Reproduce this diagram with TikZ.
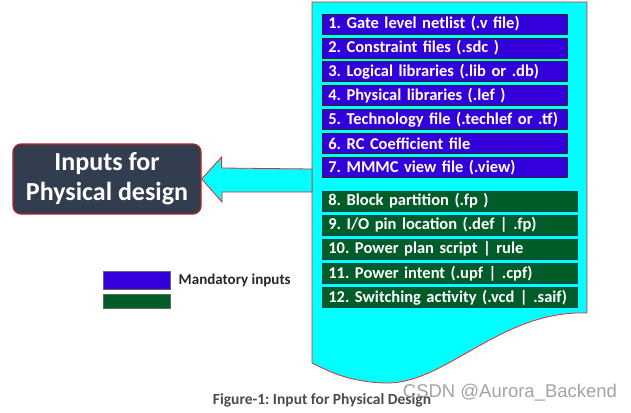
\documentclass[tikz,border=0pt]{standalone}
\usepackage{fontspec}
\setmainfont{Carlito}
\newfontfamily\markfont{Liberation Sans}
\usetikzlibrary{positioning}
\frenchspacing
\definecolor{mandblue}{RGB}{51,0,220}
\definecolor{optgreen}{RGB}{0,92,40}
\definecolor{slate}{RGB}{50,62,80}
\definecolor{docred}{RGB}{230,40,50}
\definecolor{doccyan}{RGB}{0,255,255}
\tikzset{
	every node/.append style={
		font=\bfseries,
	},
	listbox/.style={
		draw=black!85,
		line width=0.7pt,
		text=white,
		inner xsep=6pt,
		inner ysep=0pt,
		minimum height=20pt,
		align=left,
		font={\fontsize{16.5}{18}\selectfont\bfseries},
	},
	mandbox/.style={
		listbox,
		fill=mandblue,
		text width=233pt,
	},
	optbox/.style={
		listbox,
		fill=optgreen,
		draw=teal!60!black,
		text width=243pt,
	},
	docshape/.style={
		draw=docred,
		fill=doccyan,
		line width=0.8pt,
	},
	target/.style={
		draw=docred!80!black,
		fill=slate,
		line width=1.2pt,
		rounded corners=8pt,
		text=white,
		align=center,
		minimum width=188pt,
		minimum height=70pt,
		font={\fontsize{26}{30}\selectfont\bfseries},
	},
	legendbox/.style={
		draw=black!60,
		minimum width=67pt,
		inner sep=0pt,
	},
}

\begin{document}
\begin{tikzpicture}[x=1pt, y=-1pt]
\useasboundingbox (0,0) rectangle (631,412);

% the input document
\draw[docshape] (312,2) -- (587,2) -- (587,313)
	.. controls (500,310) and (445,385) .. (385,383)
	.. controls (350,382) and (330,372) .. (312,363) -- cycle;
\coordinate (docw) at (312,180);

% mandatory inputs
\node(b1)[mandbox, anchor=west] at (322,24) {1. Gate level netlist (.v file)};
\node(b2)[mandbox, below=3.2pt of b1]{2. Constraint files (.sdc )};
\node(b3)[mandbox, below=3.2pt of b2]{3. Logical libraries (.lib or .db)};
\node(b4)[mandbox, below=3.2pt of b3]{4. Physical libraries (.lef )};
\node(b5)[mandbox, below=3.2pt of b4]{5. Technology file (.techlef or .tf)};
\node(b6)[mandbox, below=3.2pt of b5]{6. RC Coefficient file};
\node(b7)[mandbox, below=3.2pt of b6]{7. MMMC view file (.view)};

% optional inputs
\node(b8)[optbox, below=13pt of b7.south west, anchor=north west]{8. Block partition (.fp )};
\node(b9)[optbox, below=3.4pt of b8]{9. I/O pin location (.def | .fp)};
\node(b10)[optbox, below=3.4pt of b9]{10. Power plan script | rule};
\node(b11)[optbox, below=3.4pt of b10]{11. Power intent (.upf | .cpf)};
\node(b12)[optbox, below=3.4pt of b11]{12. Switching activity (.vcd | .saif)};

% target block and arrow
\node(pd)[target] at (107,179){Inputs for\\Physical design};
\draw[docshape, line join=miter] (pd.east) -- ++(20,-22) -- ++(0,11) -- (docw |- 0,169)
	-- (docw |- 0,192) -- ++(-90,0) -- ++(0,10) -- cycle;

% legend
\node(legm)[legendbox, fill=mandblue, minimum height=18pt] at (136.5,280){};
\node(lego)[legendbox, fill=optgreen, minimum height=14pt, below=5pt of legm]{};
\node(legtxt)[right=5pt of legm, font={\fontsize{15}{17}\selectfont\bfseries}, text=black!85]{Mandatory inputs};

% caption and mark
\node(cap)[text=black!70, font={\fontsize{15.5}{17}\selectfont\bfseries}] at (322,400){Figure-1: Input for Physical Design};
\node(mark)[text=black!45, opacity=0.8, font={\fontsize{18.5}{20}\selectfont\markfont}] at (510,393){CSDN @Aurora\_Backend};
\end{tikzpicture}
\end{document}
